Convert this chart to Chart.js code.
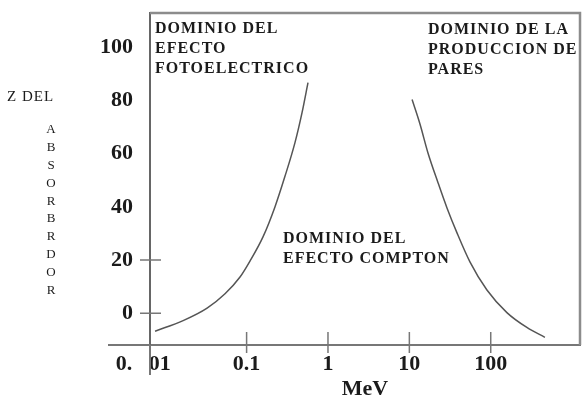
<!DOCTYPE html>
<html>
<head>
<meta charset="utf-8">
<title>Dominios de interaccion</title>
<script src="https://cdn.jsdelivr.net/npm/chart.js@4.4.0/dist/chart.umd.min.js"></script>
<style>
  html, body { margin: 0; padding: 0; background: #fff; }
  #wrap { width: 582px; height: 400px; }
</style>
</head>
<body>
<div id="wrap"><canvas id="chart" width="582" height="400"></canvas></div>
<script>
// tick values / labels
const xTickValues = [0.01, 0.1, 1, 10, 100];
const xTickLabels = ["0.   01        ", "0.1", "1", "10", "100"];
const xMarkedTicks = [0.1, 1, 10, 100];
const yTickValues = [0, 20, 40, 60, 80, 100];
const yMarkedTicks = [0, 20];

// photoelectric curve (MeV, Z)
const photoEnergy = [0.0075, 0.0166, 0.0327, 0.0543, 0.083, 0.110, 0.159, 0.223, 0.296, 0.393, 0.480, 0.568];
const photoZ = [-6.8, -2.8, 1.9, 7.3, 13.6, 19.6, 28.7, 40.0, 51.5, 64.2, 75.5, 86.8];

// pair production curve (MeV, Z)
const pairEnergy = [10.8, 13.5, 16.9, 22.5, 29.0, 38.5, 55.5, 89.8, 158, 278, 463];
const pairZ = [80.4, 71.2, 60.4, 49.1, 39.6, 30.2, 19.3, 8.7, 0.2, -5.4, -9.1];

// texts
const xTitle = "MeV";
const yTitleTop = "Z DEL";
const yTitleLetters = ["A", "B", "S", "O", "R", "B", "R", "D", "O", "R"];
const photoLabel = ["DOMINIO DEL", "EFECTO", "FOTOELECTRICO"];
const pairLabel = ["DOMINIO DE LA", "PRODUCCION DE", "PARES"];
const comptonLabel = ["DOMINIO DEL", "EFECTO COMPTON"];

const INK = "#1b1b1b";
const LINE = "#555555";
const FRAME = "#8c8c8c";

function toPoints(xs, ys) {
    return xs.map((x, i) => ({ x: x, y: ys[i] }));
}

// stop chart.js from reserving room for half labels at the ends
function noEdgePadding(s) {
    s.paddingTop = 0;
    s.paddingBottom = 0;
    s.paddingLeft = 0;
    s.paddingRight = 0;
}

// extra drawing: frame, crossing tick marks, region labels, stacked y title
const decorPlugin = {
    id: "decor",
    afterDraw(chart) {
        const ctx = chart.ctx;
        const area = chart.chartArea;
        const xs = chart.scales.x;
        const ys = chart.scales.y;

        ctx.save();
        // top and right of the box
        ctx.strokeStyle = FRAME;
        ctx.lineWidth = 2.5;
        ctx.beginPath();
        ctx.moveTo(area.left, area.top);
        ctx.lineTo(area.right, area.top);
        ctx.lineTo(area.right, area.bottom);
        ctx.stroke();

        // axis extensions
        ctx.strokeStyle = "#777";
        ctx.lineWidth = 2;
        ctx.beginPath();
        ctx.moveTo(area.left, area.bottom);
        ctx.lineTo(area.left, area.bottom + 30);
        ctx.moveTo(area.left - 42, area.bottom);
        ctx.lineTo(area.left, area.bottom);
        ctx.stroke();

        // tick marks crossing the axes
        ctx.lineWidth = 1.5;
        ctx.beginPath();
        yMarkedTicks.forEach((v) => {
            const py = ys.getPixelForValue(v);
            ctx.moveTo(area.left - 10, py);
            ctx.lineTo(area.left + 11, py);
        });
        xMarkedTicks.forEach((v) => {
            const px = xs.getPixelForValue(v);
            ctx.moveTo(px, area.bottom - 13);
            ctx.lineTo(px, area.bottom + 8);
        });
        ctx.stroke();

        // region labels
        ctx.fillStyle = INK;
        ctx.font = "bold 16px 'Liberation Serif'";
        ctx.letterSpacing = "1px";
        ctx.textAlign = "left";
        ctx.textBaseline = "alphabetic";
        photoLabel.forEach((t, i) => ctx.fillText(t, area.left + 5, area.top + 20 + i * 20));
        pairLabel.forEach((t, i) => ctx.fillText(t, area.left + 278, area.top + 21 + i * 20));
        comptonLabel.forEach((t, i) => ctx.fillText(t, area.left + 133, area.top + 230 + i * 20));

        // y title
        ctx.font = "15px 'Liberation Serif'";
        ctx.letterSpacing = "1px";
        ctx.fillText(yTitleTop, 7, 101);
        ctx.font = "13px 'Liberation Serif'";
        ctx.letterSpacing = "0px";
        ctx.textAlign = "center";
        ctx.textBaseline = "middle";
        yTitleLetters.forEach((ch, i) => ctx.fillText(ch, 51, 130 + i * 17.8));
        ctx.restore();
    }
};

const tickFont = { family: "'Liberation Serif'", size: 22, weight: "bold" };

new Chart(document.getElementById("chart"), {
    type: "line",
    data: {
        datasets: [
            {
                data: toPoints(photoEnergy, photoZ),
                borderColor: LINE,
                borderWidth: 1.5,
                pointRadius: 0,
                cubicInterpolationMode: "monotone",
                fill: false
            },
            {
                data: toPoints(pairEnergy, pairZ),
                borderColor: LINE,
                borderWidth: 1.5,
                pointRadius: 0,
                cubicInterpolationMode: "monotone",
                fill: false
            }
        ]
    },
    options: {
        responsive: false,
        animation: false,
        layout: { padding: { left: 0, right: 2, top: 13, bottom: 0 } },
        plugins: {
            legend: { display: false },
            tooltip: { enabled: false }
        },
        scales: {
            x: {
                type: "logarithmic",
                min: 0.0065,
                max: 1250,
                bounds: "data",
                afterBuildTicks: (s) => { s.ticks = xTickValues.map((v) => ({ value: v })); },
                afterFit: (s) => { s.height = 55; noEdgePadding(s); },
                grid: { display: false, drawTicks: false },
                border: { display: true, color: "#777", width: 2 },
                ticks: {
                    callback: (v, i) => xTickLabels[i],
                    font: tickFont,
                    color: INK,
                    padding: 6,
                    maxRotation: 0,
                    autoSkip: false
                },
                title: {
                    display: true,
                    text: xTitle,
                    font: { family: "'Liberation Serif'", size: 22, weight: "bold", lineHeight: 1 },
                    color: INK,
                    padding: { top: 0, bottom: 0 }
                }
            },
            y: {
                min: -12,
                max: 113,
                bounds: "data",
                afterBuildTicks: (s) => { s.ticks = yTickValues.map((v) => ({ value: v })); },
                afterFit: (s) => { s.width = 150; noEdgePadding(s); },
                grid: { display: false, drawTicks: false },
                border: { display: true, color: "#666", width: 2 },
                ticks: {
                    font: tickFont,
                    color: INK,
                    padding: 17
                }
            }
        }
    },
    plugins: [decorPlugin]
});
</script>
</body>
</html>
